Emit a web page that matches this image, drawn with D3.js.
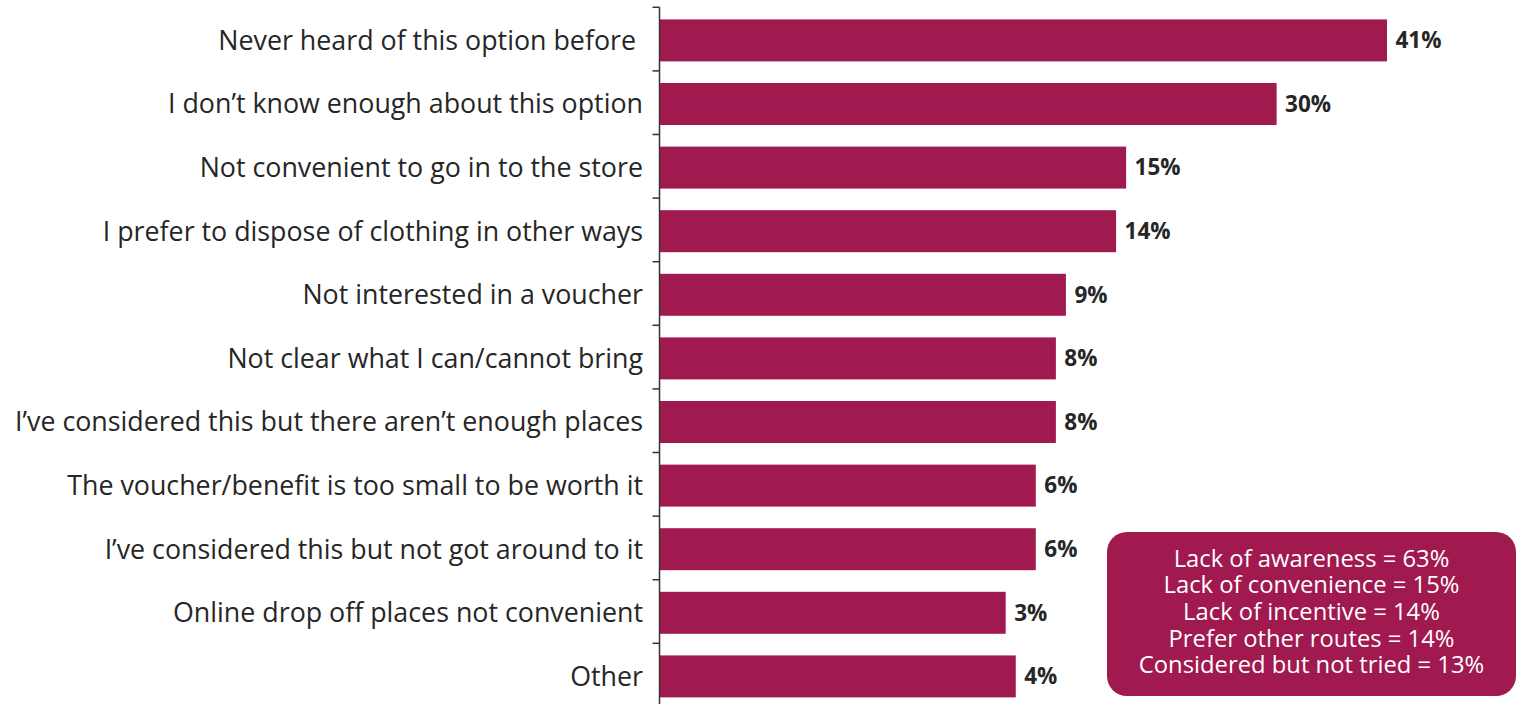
<!DOCTYPE html>
<html>
<head>
<meta charset="utf-8">
<script src="https://cdn.jsdelivr.net/npm/d3@7"></script>
<style>
  html, body { margin: 0; padding: 0; background: #fff; }
  svg { display: block; font-family: "Open Sans", sans-serif; }
</style>
</head>
<body>
<div id="chart"></div>
<script>
// Reasons for not using the in-store clothing take-back option (% of respondents)
const categories = [
  "Never heard of this option before ",
  "I don\u2019t know enough about this option",
  "Not convenient to go in to the store",
  "I prefer to dispose of clothing in other ways",
  "Not interested in a voucher",
  "Not clear what I can/cannot bring",
  "I\u2019ve considered this but there aren\u2019t enough places",
  "The voucher/benefit is too small to be worth it",
  "I\u2019ve considered this but not got around to it",
  "Online drop off places not convenient",
  "Other"
];
const values = [41, 30, 15, 14, 9, 8, 8, 6, 6, 3, 4];

// summary box lines
const summaryLines = [
  "Lack of awareness = 63%",
  "Lack of convenience = 15%",
  "Lack of incentive = 14%",
  "Prefer other routes = 14%",
  "Considered but not tried = 13%"
];

// the original axis doesn't start at zero
const axisMin = -31.5;

const W = 1522, H = 704;
const barColor = "#A0194F";
const textColor = "#262626";

const svg = d3.select("#chart")
  .append("svg")
  .attr("width", W)
  .attr("height", H);

const x = d3.scaleLinear()
  .domain([0, 41])
  .range([975.6, 1387]);

// bars sit a touch low inside their tick slots in the original
const y = d3.scaleBand()
  .domain(categories)
  .range([8.6, 708.2])
  .paddingInner(0.34)
  .paddingOuter(0.17);

const x0 = x(axisMin);

// Bars
svg.selectAll(".bar")
  .data(values)
  .enter()
  .append("rect")
  .attr("class", "bar")
  .attr("x", x0)
  .attr("y", (d, i) => y(categories[i]))
  .attr("width", d => x(d) - x0)
  .attr("height", y.bandwidth())
  .attr("fill", barColor);

// Value labels
svg.selectAll(".val")
  .data(values)
  .enter()
  .append("text")
  .attr("class", "val")
  .attr("x", d => x(d) + 8.5)
  .attr("y", (d, i) => y(categories[i]) + y.bandwidth() / 2)
  .attr("dy", "0.35em")
  .style("font-size", "22.5px")
  .style("font-weight", "bold")
  .attr("fill", textColor)
  .text(d => d + "%");

// Category axis: ticks on the slot boundaries
const step = y.step();
const boundaries = d3.range(categories.length + 1).map(i => 7.3 + i * step);

const axisG = svg.append("g");
axisG.append("line")
  .attr("x1", x0).attr("x2", x0)
  .attr("y1", boundaries[0]).attr("y2", H)
  .attr("stroke", "#333")
  .attr("stroke-width", 1.5);

axisG.selectAll(".tick")
  .data(boundaries)
  .enter()
  .append("line")
  .attr("x1", x0 - 7).attr("x2", x0)
  .attr("y1", d => d).attr("y2", d => d)
  .attr("stroke", "#333")
  .attr("stroke-width", 1.5);

axisG.selectAll(".cat")
  .data(categories)
  .enter()
  .append("text")
  .attr("x", 643)
  .attr("y", d => y(d) + y.bandwidth() / 2)
  .attr("dy", "0.35em")
  .attr("text-anchor", "end")
  .style("font-size", "26.8px")
  .style("white-space", "pre")
  .attr("fill", textColor)
  .text(d => d);

// Summary box
const box = { x: 1107, y: 532, w: 409, h: 164 };
svg.append("rect")
  .attr("x", box.x).attr("y", box.y)
  .attr("width", box.w).attr("height", box.h)
  .attr("rx", 20).attr("ry", 20)
  .attr("fill", barColor);

svg.selectAll(".summary")
  .data(summaryLines)
  .enter()
  .append("text")
  .attr("class", "summary")
  .attr("x", box.x + box.w / 2)
  .attr("y", (d, i) => 558.3 + i * 26.7)
  .attr("dy", "0.35em")
  .attr("text-anchor", "middle")
  .style("font-size", "23.8px")
  .attr("fill", "#fff")
  .text(d => d);
</script>
</body>
</html>
